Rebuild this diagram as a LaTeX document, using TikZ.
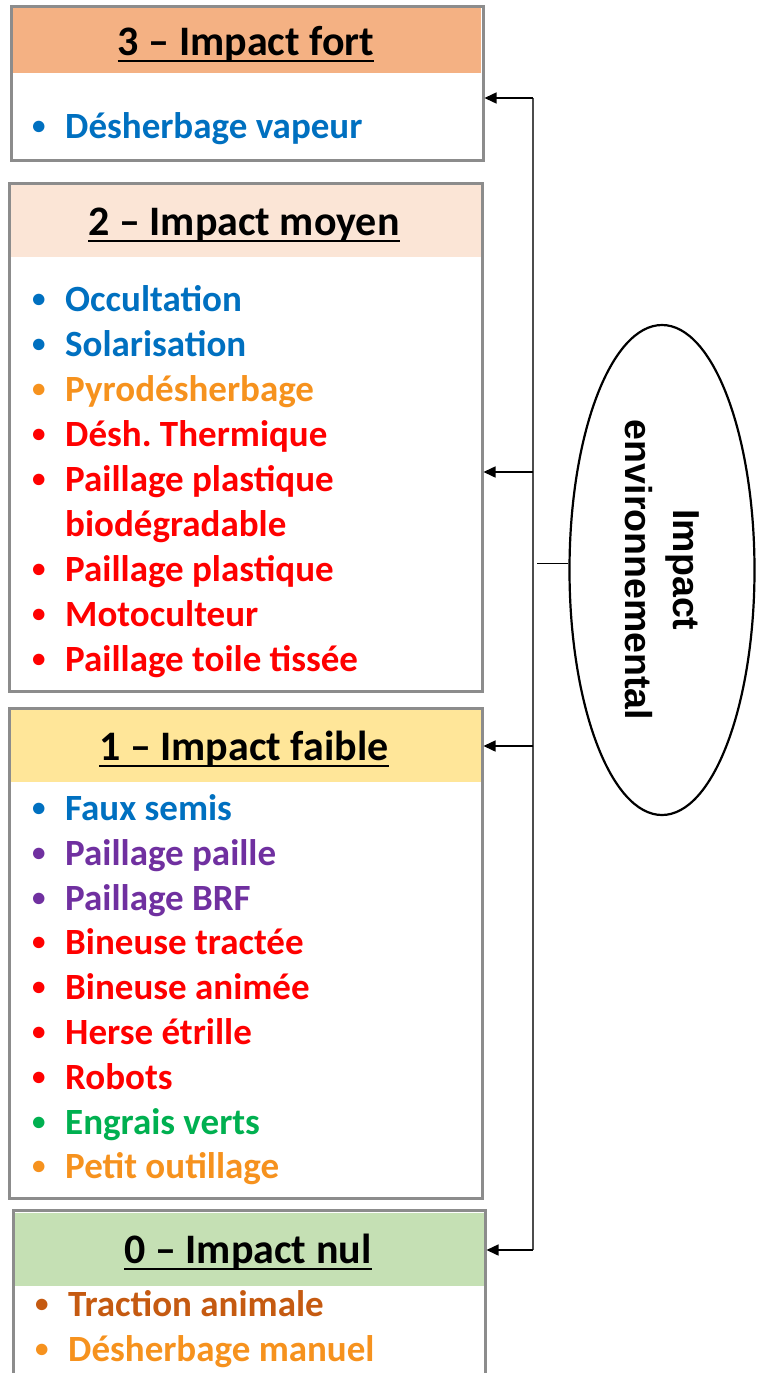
\documentclass[tikz,border=0pt]{standalone}
\usepackage{fontspec}
\setmainfont{Carlito}
\newfontfamily\arialb{Liberation Sans}
\usepackage{xcolor}
\usepackage{tikz}
\usetikzlibrary{arrows.meta}
\usetikzlibrary{shapes.geometric}
\usetikzlibrary{positioning}
\definecolor{bleu}{HTML}{0070C0}
\definecolor{orange}{HTML}{F6921E}
\definecolor{rouge}{HTML}{FF0000}
\definecolor{violet}{HTML}{7030A0}
\definecolor{vert}{HTML}{00B050}
\definecolor{brun}{HTML}{C55A11}
\definecolor{gris}{HTML}{8C8C8C}
\definecolor{fort}{HTML}{F4B183}
\definecolor{moyen}{HTML}{FBE5D6}
\definecolor{faible}{HTML}{FFE699}
\definecolor{nul}{HTML}{C5E0B4}
\frenchspacing
\newcommand{\pt}{\makebox[34pt][l]{\hspace{1pt}\raisebox{4pt}{\fontsize{27}{27}\selectfont\textbullet}}}
\tikzstyle{cadre}=[draw=gris,line width=2.5,rectangle,anchor=north west,inner sep=0]
\tikzstyle{entete}=[rectangle,anchor=north west,inner sep=0]
\tikzstyle{titre}=[anchor=base,inner sep=0,font=\fontsize{42}{50}\selectfont\bfseries]
\tikzstyle{puce}=[anchor=base west,inner sep=0,text=#1,font=\fontsize{37}{45}\selectfont\bfseries]
\tikzstyle{souligne}=[line width=2.5]
\tikzstyle{fleche}=[line width=1.5,-{Triangle[length=12pt,width=11pt]}]
\tikzstyle{bus}=[line width=2,black!70]

\begin{document}
\begin{tikzpicture}[x=1pt,y=1pt]
	\clip (0,0) rectangle (763,-1373);

	% % % 3 - fort
	\node[entete,fill=fort,minimum width=470,minimum height=66] (h3) at (11,-7) {};
	\node[cadre,minimum width=472,minimum height=154] (box3) at (10,-5) {};
	\node[titre] (t3) at (246,-55) {3 – Impact fort};
	\draw[souligne] ([yshift=-6]t3.base west) -- ([yshift=-6]t3.base east);
	\node[puce=bleu] (i31) at (31,-138) {\pt Désherbage vapeur};

	% % % 2 - moyen
	\node[entete,fill=moyen,minimum width=472,minimum height=73] (h2) at (9,-184) {};
	\node[cadre,minimum width=473,minimum height=508] (box2) at (8,-182) {};
	\node[titre] (t2) at (244,-235) {2 – Impact moyen};
	\draw[souligne] ([yshift=-6]t2.base west) -- ([yshift=-6]t2.base east);
	\node[puce=bleu] (i21) at (31,-311) {\pt Occultation};
	\node[puce=bleu] (i22) at (31,-356) {\pt Solarisation};
	\node[puce=orange] (i23) at (31,-401) {\pt Pyrodésherbage};
	\node[puce=rouge] (i24) at (31,-446) {\pt Désh. Thermique};
	\node[puce=rouge] (i25) at (31,-491) {\pt Paillage plastique};
	\node[puce=rouge] (i25b) at (65,-536) {biodégradable};
	\node[puce=rouge] (i26) at (31,-581) {\pt Paillage plastique};
	\node[puce=rouge] (i27) at (31,-626) {\pt Motoculteur};
	\node[puce=rouge] (i28) at (31,-671) {\pt Paillage toile tissée};

	% % % 1 - faible
	\node[entete,fill=faible,minimum width=472,minimum height=74] (h1) at (9,-708) {};
	\node[cadre,minimum width=473,minimum height=490] (box1) at (8,-707) {};
	\node[titre] (t1) at (244,-760) {1 – Impact faible};
	\draw[souligne] ([yshift=-6]t1.base west) -- ([yshift=-6]t1.base east);
	\node[puce=bleu] (i11) at (31,-820) {\pt Faux semis};
	\node[puce=violet] (i12) at (31,-865) {\pt Paillage paille};
	\node[puce=violet] (i13) at (31,-910) {\pt Paillage BRF};
	\node[puce=rouge] (i14) at (31,-954) {\pt Bineuse tractée};
	\node[puce=rouge] (i15) at (31,-999) {\pt Bineuse animée};
	\node[puce=rouge] (i16) at (31,-1044) {\pt Herse étrille};
	\node[puce=rouge] (i17) at (31,-1089) {\pt Robots};
	\node[puce=vert] (i18) at (31,-1134) {\pt Engrais verts};
	\node[puce=orange] (i19) at (31,-1178) {\pt Petit outillage};

	% % % 0 - nul
	\node[entete,fill=nul,minimum width=471,minimum height=73] (h0) at (13,-1213) {};
	\node[cadre,minimum width=472,minimum height=200] (box0) at (12,-1209) {};
	\node[titre] (t0) at (248,-1263) {0 – Impact nul};
	\draw[souligne] ([yshift=-6]t0.base west) -- ([yshift=-6]t0.base east);
	\node[puce=brun] (i01) at (34,-1316) {\pt Traction animale};
	\node[puce=orange] (i02) at (34,-1361) {\pt Désherbage manuel};

	% % % impact environnemental
	\node[ellipse,draw,line width=2.2,rotate=-90,minimum width=490,minimum height=185,
	align=center,inner sep=0,font=\fontsize{37.5}{48}\selectfont\arialb\bfseries]
	(env) at (662,-570) {Impact\\environnemental};

	\coordinate (a3) at (533,-98);
	\coordinate (a2) at (533,-472);
	\coordinate (a1) at (533,-746);
	\coordinate (a0) at (533,-1250);
	\coordinate (j) at (537,-563);

	\draw[bus] (a3) -- (a0);
	\draw[fleche] (a3) -- (a3 -| box3.east);
	\draw[fleche] (a2) -- (a2 -| box2.east);
	\draw[fleche] (a1) -- (a1 -| box1.east);
	\draw[fleche] (a0) -- (a0 -| box0.east);
	\draw[line width=1] (j) -- (j -| env.south);
\end{tikzpicture}
\end{document}
